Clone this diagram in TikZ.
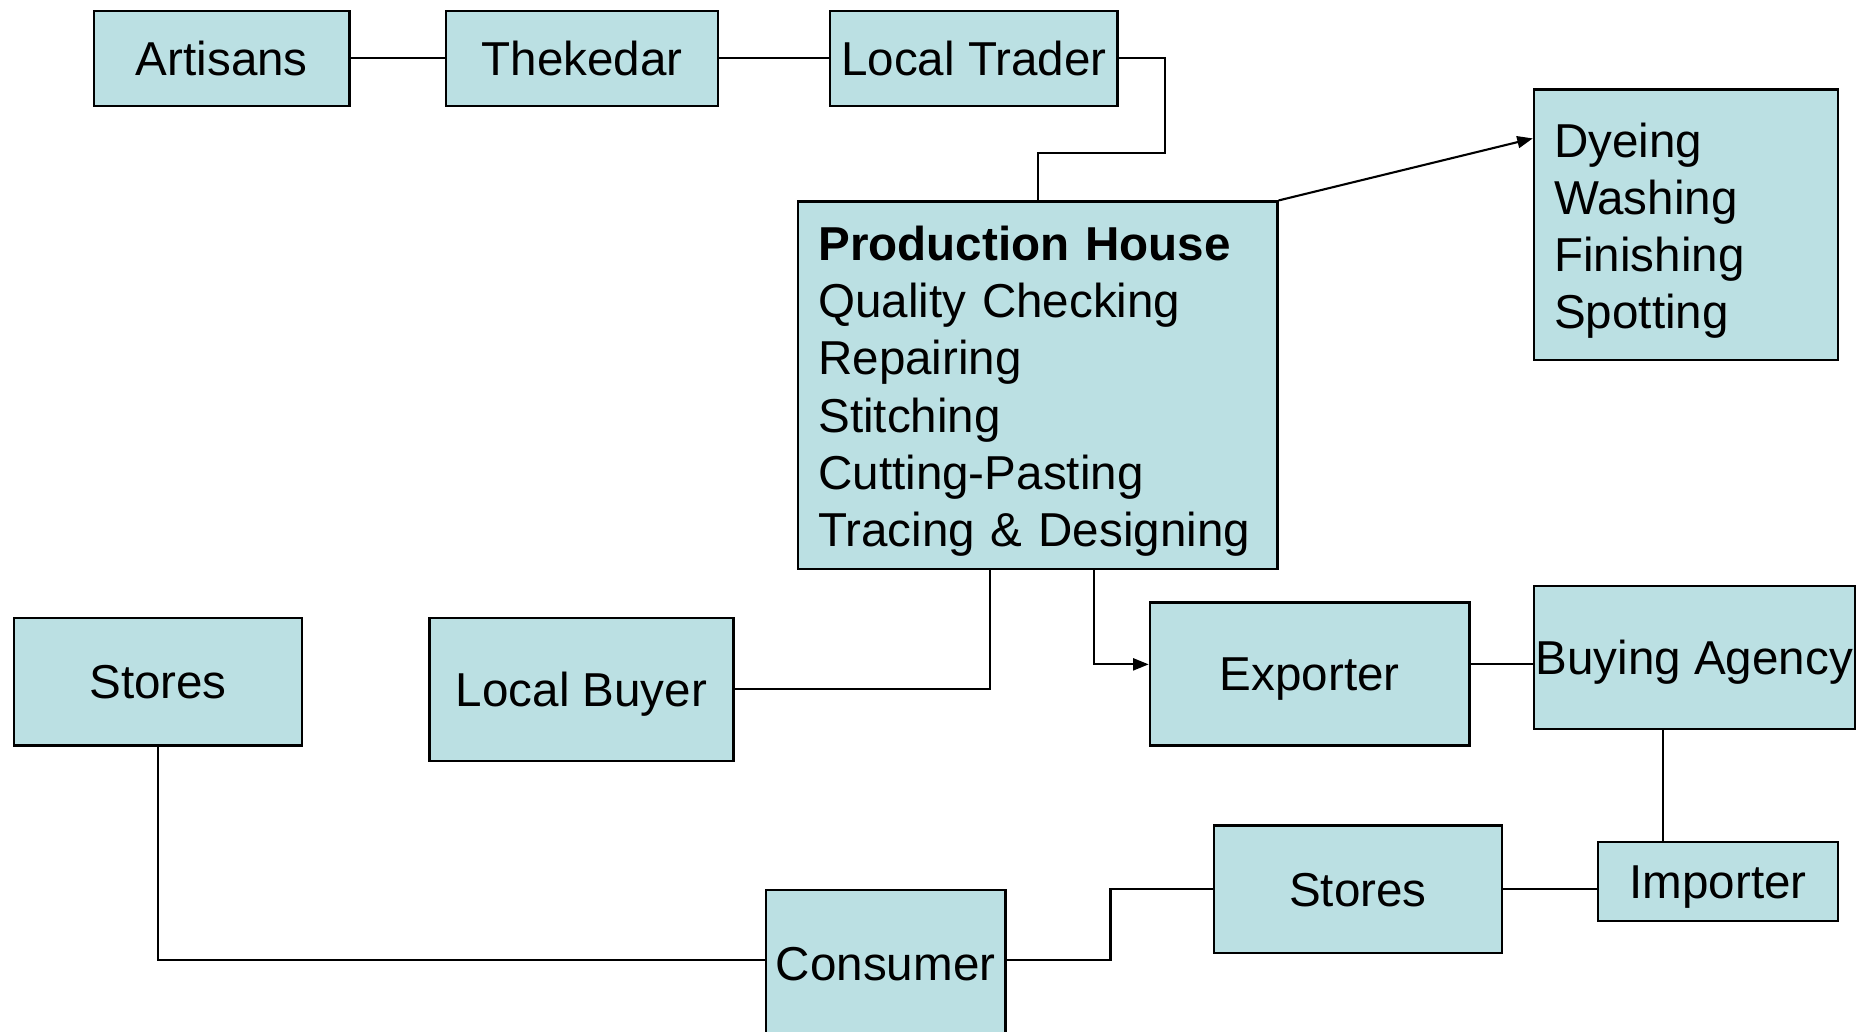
\documentclass[tikz,border=0pt]{standalone}
\usepackage{fontspec}
\setmainfont{Liberation Sans}
\usetikzlibrary{arrows.meta,calc}
\definecolor{boxfill}{RGB}{187,224,227}
\begin{document}
\begin{tikzpicture}[x=0.02cm,y=-0.02cm,
  txt/.style={font=\fontsize{22.7}{27.3}\selectfont},
  box/.style={draw=black, fill=boxfill, line width=1.1pt, inner sep=0pt, txt},
  onebox/.style={box, text height=16.25pt, text depth=0pt},
  listbox/.style={box, align=left, inner xsep=0.34cm},
  conn/.style={draw=black, line width=1pt},
  arr/.style={conn, -{Triangle[length=0.26cm,width=0.2cm]}}]
\useasboundingbox (0,0) rectangle (1567.8,864.4);
\clip (0,0) rectangle (1567.8,864.4);
\fill[white] (0,0) rectangle (1567.8,864.4);

% nodes
\node[onebox, minimum width=4.28cm, minimum height=1.6cm] (art) at (186,49) {Artisans};
\node[onebox, minimum width=4.56cm, minimum height=1.6cm] (thek) at (488,49) {Thekedar};
\node[onebox, minimum width=4.82cm, minimum height=1.6cm] (lt) at (816.5,49) {Local Trader};
\node[listbox, text width=7.36cm, minimum height=6.16cm] (ph) at (870,323)
  {\rule{0pt}{22.2pt}\textbf{Production House}\\Quality Checking\\Repairing\\Stitching\\Cutting-Pasting\\Tracing \& Designing};
\node[listbox, text width=4.42cm, minimum height=4.54cm] (dye) at (1413.5,188.5)
  {\rule{0pt}{22.2pt}Dyeing\\Washing\\Finishing\\Spotting};
\node[onebox, minimum width=4.82cm, minimum height=2.14cm] (sl) at (132.5,571.5) {Stores};
\node[onebox, minimum width=5.1cm, minimum height=2.4cm] (lb) at (487.5,578) {Local Buyer};
\node[onebox, minimum width=5.36cm, minimum height=2.4cm] (exp) at (1098,565) {Exporter};
\node[onebox, minimum width=5.38cm, minimum height=2.4cm] (ba) at (1420.5,551) {Buying Agency};
\node[onebox, minimum width=4.02cm, minimum height=1.32cm] (imp) at (1440.5,739) {Importer};
\node[onebox, minimum width=4.82cm, minimum height=2.14cm] (sr) at (1138.5,745.5) {Stores};
\node[onebox, minimum width=4.02cm, minimum height=2.48cm] (con) at (742.5,808) {Consumer};

% connectors
\coordinate (j1) at (977,128);
\coordinate (j2) at (931,805);
\draw[conn] (art) -- (thek);
\draw[conn] (thek) -- (lt);
\draw[conn] (lt.east) -| (j1) -| (ph.north);
\draw[arr] (ph.north east) -- ([yshift=-0.84cm]dye.north west);
\draw[conn] (lb.east) -| ([xshift=-0.8cm]ph.south);
\draw[arr] ([xshift=0.94cm]ph.south) |- ([yshift=0.16cm]exp.west);
\draw[conn] ([yshift=0.16cm]exp.east) -- ([yshift=0.16cm]exp.east -| ba.west);
\draw[conn] ([xshift=-0.53cm]ba.south) -- ([xshift=-0.53cm]ba.south |- imp.north);
\draw[conn] (sr.east) -- (sr.east -| imp.west);
\draw[conn] (sr.west) -| (j2) -- (j2 -| con.east);
\draw[conn] (sl.south) |- ([yshift=0.06cm]con.west);
\end{tikzpicture}
\end{document}
